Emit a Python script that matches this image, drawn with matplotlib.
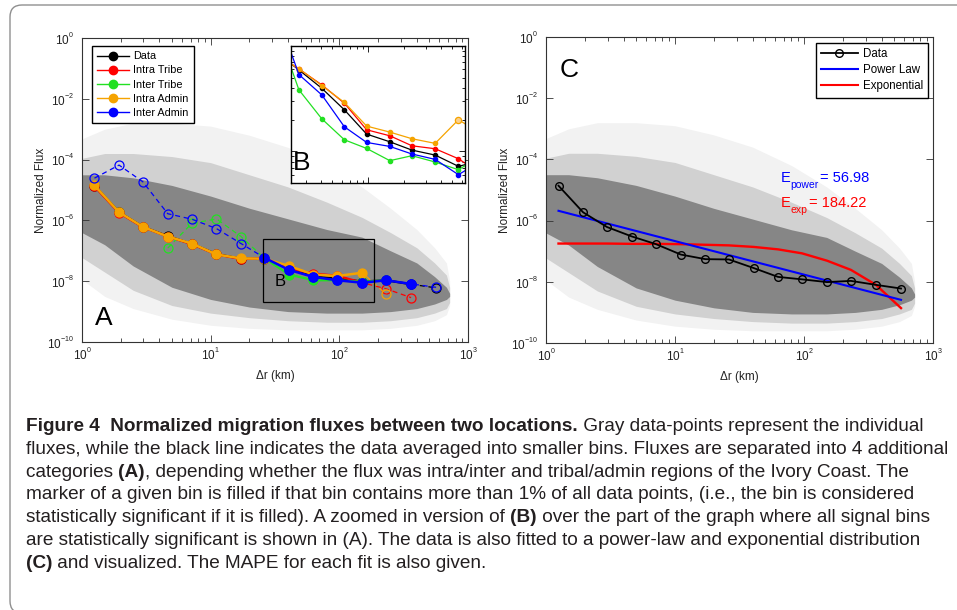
import numpy as np
import matplotlib
matplotlib.use('Agg')
import matplotlib.pyplot as plt
from matplotlib.lines import Line2D
from matplotlib.patches import Rectangle, FancyBboxPatch
from matplotlib.text import Annotation
from matplotlib.transforms import IdentityTransform
from matplotlib.ticker import LogLocator, FixedLocator, NullLocator, NullFormatter

plt.rcParams['font.family'] = ['Liberation Sans', 'DejaVu Sans']
plt.rcParams['mathtext.fontset'] = 'custom'
plt.rcParams['mathtext.rm'] = 'Liberation Sans'
plt.rcParams['mathtext.it'] = 'Liberation Sans:italic'
plt.rcParams['mathtext.bf'] = 'Liberation Sans:bold'
plt.rcParams['mathtext.default'] = 'regular'

# matlab style tick labels: small exponent sitting above the "10"
try:
    import matplotlib._mathtext as _mt
    _mt.FontConstantsBase.sup1 = 1.05
    _mt.SHRINK_FACTOR = 0.6
except Exception:
    pass

# bin centres, delta r (km)
r_bins = [1.25, 1.94, 2.97, 4.64, 7.13, 11.1, 17.2, 26.2, 40.7, 62.9, 96.5, 150.8, 231, 361, 565]

# log10 of the normalized flux in each bin
data_log = [-4.86, -5.73, -6.21, -6.52, -6.77, -7.11, -7.26, -7.27, -7.55, -7.84, -7.92, -8.01, -7.97, -8.10, -8.22]
intra_tribe_log = [-4.88, -5.75, -6.22, -6.53, -6.78, -7.12, -7.27, -7.25, -7.58, -7.75, -7.82, -8.05, -8.25, -8.54]
inter_tribe_log = [-6.91, -6.10, -5.95, -6.53, -7.25, -7.78, -7.97, -7.97, -8.02, -7.97]
intra_admin_log = [-4.85, -5.73, -6.21, -6.53, -6.76, -7.12, -7.25, -7.26, -7.50, -7.78, -7.83, -7.72, -8.43]
inter_admin_log = [-4.61, -4.18, -4.73, -5.78, -5.96, -6.27, -6.76, -7.23, -7.63, -7.86, -7.97, -8.05, -7.97, -8.09, -8.20]

# significant (filled) bins
data_sig = [True] * 14 + [False]
intra_tribe_sig = [True] * 12 + [False] * 2
inter_tribe_sig = [False] * 4 + [True] * 6
intra_admin_sig = [True] * 12 + [False]
inter_admin_sig = [False] * 7 + [True] * 7 + [False]

# fits (panel C), log10 flux
power_r = [1.25, 565]
power_log = [-5.68, -8.59]
exp_log = [-6.75, -6.75, -6.75, -6.76, -6.76, -6.77, -6.79, -6.81, -6.86, -6.94, -7.07, -7.31, -7.61, -8.10, -8.86]
mape_power = 56.98
mape_exp = 184.22

# zoomed inset (B)
inset_r = [17.2, 26.2, 40.7, 62.9, 96.5, 150.8, 231, 361, 565, 871]
inset_data = [-7.065, -7.227, -7.401, -7.606, -7.836, -7.909, -7.988, -8.035, -8.142, -8.089]
inset_intra_tribe = [-7.082, -7.218, -7.369, -7.543, -7.795, -7.852, -7.947, -7.975, -8.070, -8.212]
inset_inter_tribe = [-6.830, -7.416, -7.691, -7.890, -7.972, -8.088, -8.041, -8.101, -8.174, -8.044]
inset_intra_admin = [-7.088, -7.215, -7.375, -7.536, -7.760, -7.817, -7.880, -7.924, -7.700, -7.830]
inset_inter_admin = [-6.694, -7.271, -7.464, -7.767, -7.915, -7.953, -8.025, -8.076, -8.221, -8.092]

# envelope of the gray cloud of individual fluxes (log10)
cloud_r = [0.9, 1.5, 2.5, 5, 10, 20, 40, 80, 150, 250, 400, 550, 680, 720]
halo_top = [-3.4, -3.0, -2.8, -2.8, -2.9, -3.2, -3.6, -4.2, -4.9, -5.6, -6.3, -6.9, -7.4, -8.0]
mid_top = [-4.0, -3.8, -3.8, -3.9, -4.1, -4.5, -4.9, -5.4, -5.9, -6.4, -6.9, -7.4, -7.8, -8.2]
core_top = [-4.5, -4.5, -4.6, -4.85, -5.2, -5.6, -5.95, -6.3, -6.55, -7.0, -7.4, -7.85, -8.2, -8.4]
core_bot = [-6.3, -6.8, -7.5, -8.2, -8.6, -8.85, -9.0, -9.05, -9.05, -9.0, -8.9, -8.75, -8.6, -8.5]
mid_bot = [-7.1, -7.7, -8.3, -8.8, -9.05, -9.2, -9.3, -9.35, -9.35, -9.3, -9.2, -9.05, -8.9, -8.7]
halo_bot = [-7.8, -8.5, -8.9, -9.25, -9.45, -9.55, -9.6, -9.6, -9.6, -9.55, -9.45, -9.3, -9.1, -8.8]

caption_lines = [
    [("Figure 4  Normalized migration fluxes between two locations.", True),
     (" Gray data-points represent the individual", False)],
    [("fluxes, while the black line indicates the data averaged into smaller bins. Fluxes are separated into 4 additional", False)],
    [("categories ", False), ("(A)", True),
     (", depending whether the flux was intra/inter and tribal/admin regions of the Ivory Coast. The", False)],
    [("marker of a given bin is filled if that bin contains more than 1% of all data points, (i.e., the bin is considered", False)],
    [("statistically significant if it is filled). A zoomed in version of ", False), ("(B)", True),
     (" over the part of the graph where all signal bins", False)],
    [("are statistically significant is shown in (A). The data is also fitted to a power-law and exponential distribution", False)],
    [("(C)", True), (" and visualized. The MAPE for each fit is also given.", False)],
]

c_data = 'black'
c_intra_tribe = '#ff0000'
c_inter_tribe = '#22e022'
c_intra_admin = '#f5a300'
c_inter_admin = '#0000ff'


def lin(v):
    return 10.0 ** np.asarray(v, dtype=float)


def draw_cloud(ax):
    ax.fill_between(cloud_r, lin(halo_bot), lin(halo_top), color='#f2f2f2', lw=0, zorder=0.5)
    ax.fill_between(cloud_r, lin(mid_bot), lin(mid_top), color='#d1d1d1', lw=0, zorder=0.6)
    ax.fill_between(cloud_r, lin(core_bot), lin(core_top), color='#868686', lw=0, zorder=0.7)


def style_axes(ax):
    ax.set_xscale('log')
    ax.set_yscale('log')
    ax.set_xlim(1, 1000)
    ax.set_ylim(1e-10, 1)
    ax.xaxis.set_major_locator(LogLocator(base=10, numticks=10))
    ax.xaxis.set_minor_locator(LogLocator(base=10, subs=np.arange(2, 10), numticks=10))
    ax.xaxis.set_minor_formatter(NullFormatter())
    ax.yaxis.set_major_locator(FixedLocator(10.0 ** np.arange(-10, 1, 2)))
    ax.yaxis.set_minor_locator(NullLocator())
    ax.tick_params(which='both', direction='in', top=True, right=True, labelsize=8.5,
                   width=0.6, color='#333333', labelcolor='#222222')
    ax.tick_params(which='major', length=5)
    ax.tick_params(which='minor', length=3)
    ax.tick_params(axis='y', pad=6)
    ax.tick_params(axis='x', pad=3)
    for s in ax.spines.values():
        s.set_linewidth(0.8)
        s.set_color('#333333')
    ax.set_ylabel('Normalized Flux', fontsize=8.5, color='#222222')
    ax.set_xlabel('\u0394r (km)', fontsize=8.5, color='#222222')
    ax.yaxis.set_label_coords(-0.091, 0.5)
    ax.xaxis.set_label_coords(0.5, -0.093)


def plot_series(ax, x, ylog, sig, color, ms_fill, lw_sig, z):
    y = lin(ylog)
    ax.plot(x, y, color=color, ls=(0, (4, 3)), lw=0.9, marker='o', ms=6.5,
            mfc='none', mec=color, mew=0.9, zorder=z)
    ys = np.where(sig, y, np.nan)
    ax.plot(x, ys, color=color, lw=lw_sig, marker='o', ms=ms_fill,
            mfc=color, mec=color, zorder=z + 0.1)


def error_label(ax, x, y, sub, value, color):
    # "E" with a lowered subscript, then "= value" on the E baseline
    e = ax.text(x, y, 'E', transform=ax.transAxes, fontsize=10.5, color=color,
                va='baseline', ha='left')
    s = Annotation(sub, xy=(1, 0), xycoords=e, xytext=(0, -3.5), textcoords='offset points',
                   fontsize=7.5, color=color, va='bottom', ha='left')
    ax.add_artist(s)
    v = Annotation('= %.2f' % value, xy=(1, 0), xycoords=(s, e), xytext=(1, 0),
                   textcoords='offset points', fontsize=10.5, color=color, va='bottom', ha='left')
    ax.add_artist(v)


fig = plt.figure(figsize=(9.57, 6.10), dpi=100)

# outer frame with rounded corners
frame = FancyBboxPatch((10, -3), 1000, 608, boxstyle='round,pad=0,rounding_size=12',
                       transform=IdentityTransform(), fill=False, ec='#8f8f8f', lw=1.0)
fig.add_artist(frame)

axA = fig.add_axes([82 / 957, 1 - 342 / 610, 386 / 957, 304 / 610])
axC = fig.add_axes([546 / 957, 1 - 343 / 610, 387 / 957, 306 / 610])
axB = fig.add_axes([291 / 957, 1 - 183 / 610, 174 / 957, 137 / 610])

# ---- panel A ----
draw_cloud(axA)
style_axes(axA)
plot_series(axA, r_bins, data_log, data_sig, c_data, 5.5, 1.6, 2)
plot_series(axA, r_bins[:len(intra_tribe_log)], intra_tribe_log, intra_tribe_sig, c_intra_tribe, 5.5, 1.6, 2.2)
plot_series(axA, r_bins[3:3 + len(inter_tribe_log)], inter_tribe_log, inter_tribe_sig, c_inter_tribe, 5.5, 1.6, 2.4)
plot_series(axA, r_bins[:len(intra_admin_log)], intra_admin_log, intra_admin_sig, c_intra_admin, 5.5, 1.8, 2.6)
plot_series(axA, r_bins, inter_admin_log, inter_admin_sig, c_inter_admin, 6.5, 1.8, 2.8)

boxB_x = (25.7, 186)
boxB_y = (2.1e-9, 2.5e-7)
axA.add_patch(Rectangle((boxB_x[0], boxB_y[0]), boxB_x[1] - boxB_x[0], boxB_y[1] - boxB_y[0],
                        fill=False, ec='black', lw=0.9, zorder=4))
axA.text(31.5, 1.0e-8, 'B', fontsize=12, va='center', ha='left', zorder=5)
axA.text(0.034, 0.04, 'A', transform=axA.transAxes, fontsize=19, va='bottom', ha='left', zorder=5)

legA_handles = [Line2D([], [], color=c, marker='o', ms=6, lw=1.0, mfc=c, mec=c)
                for c in [c_data, c_intra_tribe, c_inter_tribe, c_intra_admin, c_inter_admin]]
legA = axA.legend(legA_handles, ['Data', 'Intra Tribe', 'Inter Tribe', 'Intra Admin', 'Inter Admin'],
                  loc='upper left', bbox_to_anchor=(0.026, 0.974), borderaxespad=0,
                  fontsize=7.8, fancybox=False, framealpha=1, edgecolor='black',
                  handlelength=2.9, labelspacing=0.38, borderpad=0.5, handletextpad=0.4)
legA.get_frame().set_linewidth(1.0)
legA.set_zorder(6)

# ---- inset B ----
axB.set_xscale('log')
axB.set_yscale('log')
for ylog, c in [(inset_data, c_data), (inset_intra_tribe, c_intra_tribe),
                (inset_inter_tribe, c_inter_tribe), (inset_intra_admin, c_intra_admin),
                (inset_inter_admin, c_inter_admin)]:
    axB.plot(inset_r, lin(ylog), color=c, lw=0.9, marker='o', ms=3, mfc=c, mec=c)
axB.plot(inset_r[8], lin(inset_intra_admin[8]), marker='o', ms=4.5, mfc='#fcd08a', mec=c_intra_admin, mew=0.9)
axB.set_xlim(22.5, 641)
axB.set_ylim(10 ** -8.3, 10 ** -7.0)
axB.xaxis.set_major_formatter(NullFormatter())
axB.xaxis.set_minor_formatter(NullFormatter())
axB.yaxis.set_major_formatter(NullFormatter())
axB.yaxis.set_minor_formatter(NullFormatter())
axB.tick_params(which='both', direction='in', top=True, right=True, width=0.6)
axB.tick_params(which='major', length=4)
axB.tick_params(which='minor', length=2.5)
for s in axB.spines.values():
    s.set_linewidth(1.0)
axB.text(0.012, 0.06, 'B', transform=axB.transAxes, fontsize=19, va='bottom', ha='left')

# ---- panel C ----
draw_cloud(axC)
style_axes(axC)
axC.plot(r_bins, lin(exp_log), color='#ff0000', lw=1.7, zorder=2)
axC.plot(power_r, lin(power_log), color='#0000ff', lw=1.5, zorder=2.1)
axC.plot(r_bins, lin(data_log), color='black', lw=1.3, marker='o', ms=5.5,
         mfc='none', mec='black', mew=1.0, zorder=3)
axC.text(0.036, 0.93, 'C', transform=axC.transAxes, fontsize=19, va='top', ha='left')
error_label(axC, 0.607, 0.526, 'power', mape_power, '#0000ff')
error_label(axC, 0.607, 0.444, 'exp', mape_exp, '#ff0000')
legC_handles = [Line2D([], [], color='black', lw=1.3, marker='o', ms=5.5, mfc='none', mec='black'),
                Line2D([], [], color='#0000ff', lw=1.5),
                Line2D([], [], color='#ff0000', lw=1.5)]
legC = axC.legend(legC_handles, ['Data', 'Power Law', 'Exponential'], loc='upper right',
                  bbox_to_anchor=(0.987, 0.980), borderaxespad=0, fontsize=8.3,
                  fancybox=False, framealpha=1, edgecolor='black', handlelength=3.2,
                  labelspacing=0.35, borderpad=0.45, handletextpad=0.4)
legC.get_frame().set_linewidth(1.0)

# ---- caption ----
cap_family = ['Liberation Sans', 'DejaVu Sans']
cap_size = 13.7
for i, line in enumerate(caption_lines):
    y = 1 - (435 + 22.8 * i) / 610
    prev = None
    for txt, bold in line:
        kw = dict(fontsize=cap_size, family=cap_family, color='#231f20',
                  fontweight='bold' if bold else 'normal', va='bottom', ha='left')
        if prev is None:
            prev = fig.text(26 / 957, y, txt, **kw)
        else:
            ann = Annotation(txt, xy=(1, 0), xycoords=prev, **kw)
            fig.add_artist(ann)
            prev = ann

fig.savefig('out.png', dpi=100)
